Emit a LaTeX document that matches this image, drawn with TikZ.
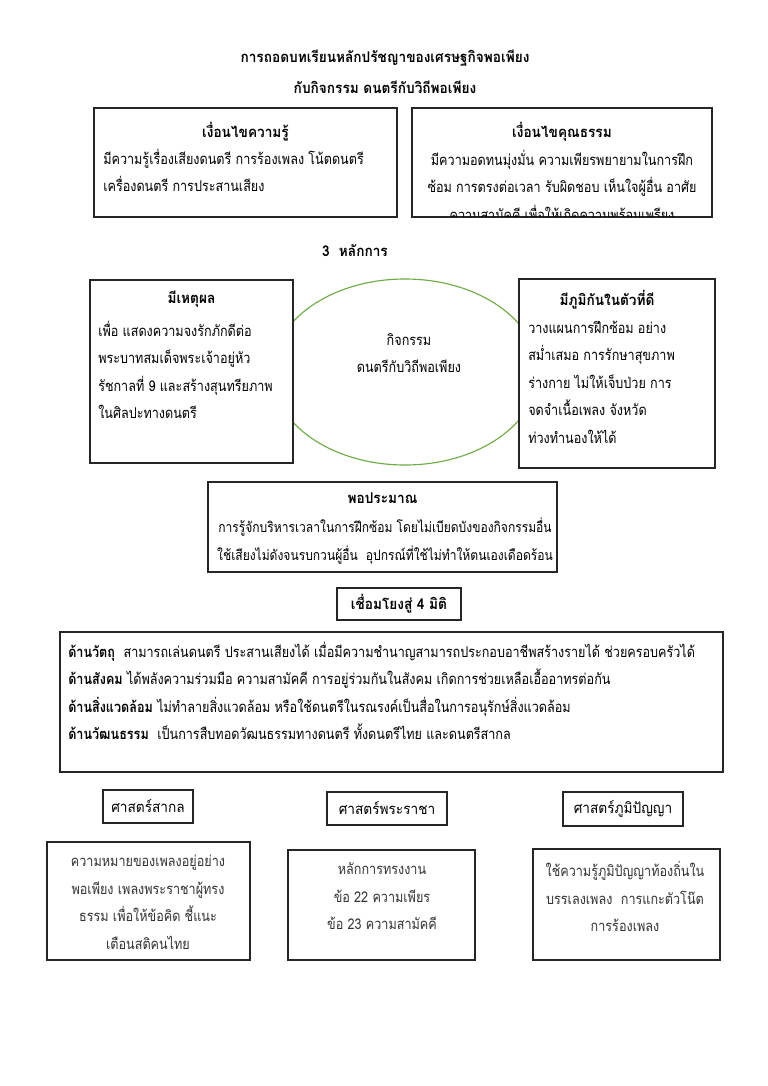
\documentclass[tikz,border=0pt]{standalone}
\usepackage{fontspec}
\newfontfamily\thai[Script=Thai,FakeStretch=0.85]{Loma}
\newfontfamily\thaihd[Script=Thai,FakeStretch=0.92]{Loma}
\usetikzlibrary{positioning,calc,fit}

\begin{document}
\begin{tikzpicture}[x=0.775pt,y=-0.775pt,
  every node/.style={inner sep=0pt,font=\thai\fontsize{11.5}{21.3}\selectfont},
  box/.style={draw=black!85,line width=0.8pt,fill=white,inner sep=0pt},
  head/.style={font=\thaihd\bfseries\fontsize{11.5}{21.3}\selectfont},
  label/.style={font=\thaihd\fontsize{11.5}{21.3}\selectfont},
  body/.style={align=left},
  cbody/.style={align=center,text=black!80}]
  \useasboundingbox (0,0) rectangle (768,1086);
  % title
  \node[head] (ttl1) at (385,58) {การถอดบทเรียนหลักปรัชญาของเศรษฐกิจพอเพียง};
  \node[head] (ttl2) at (385,87) {กับกิจกรรม ดนตรีกับวิถีพอเพียง};
  % conditions
  \node[box,fit={(94,108) (397,217)}] (know) {};
  \node[head] (knowh) at ($(know.north)+(0,24)$) {เงื่อนไขความรู้};
  \node[body,anchor=west] (knowb) at (103,170.5) {มีความรู้เรื่องเสียงดนตรี การร้องเพลง โน้ตดนตรี\\เครื่องดนตรี การประสานเสียง};
  \node[box,fit={(412,108) (712,217)}] (moral) {};
  \node[head] (moralh) at ($(moral.north)+(0,24)$) {เงื่อนไขคุณธรรม};
  \begin{scope}
    \clip (412,108) rectangle (712,216);
    \node[align=center] (moralb) at (562,185) {มีความอดทนมุ่งมั่น ความเพียรพยายามในการฝึก\\ซ้อม การตรงต่อเวลา รับผิดชอบ เห็นใจผู้อื่น อาศัย\\ความสามัคคี เพื่อให้เกิดความพร้อมเพรียง};
  \end{scope}
  \node[head] (three) at (355,251) {3\ \ หลักการ};
  % principles
  \draw[color={rgb,255:red,112;green,173;blue,71},line width=0.9pt] (405,372) ellipse [x radius=133,y radius=93];
  \node[align=center] (act) at (409,353) {กิจกรรม\\ดนตรีกับวิถีพอเพียง};
  \node[box,fit={(90,280) (293,463)}] (reason) {};
  \node[head] (reasonh) at ($(reason.north)+(0,20)$) {มีเหตุผล};
  \node[body,anchor=west] (reasonb) at (98,370) {เพื่อ แสดงความจงรักภักดีต่อ\\พระบาทสมเด็จพระเจ้าอยู่หัว\\รัชกาลที่ 9 และสร้างสุนทรียภาพ\\ในศิลปะทางดนตรี};
  \node[box,fit={(519,279) (715,468)}] (immune) {};
  \node[head] (immuneh) at ($(immune.north)+(-10,21)$) {มีภูมิกันในตัวที่ดี};
  \node[body,anchor=west] (immuneb) at (528,382) {วางแผนการฝึกซ้อม อย่าง\\สม่ำเสมอ การรักษาสุขภาพ\\ร่างกาย ไม่ให้เจ็บป่วย การ\\จดจำเนื้อเพลง จังหวัด\\ท่วงทำนองให้ได้};
  \node[box,fit={(208,482) (557,572)}] (modest) {};
  \node[head] (modesth) at ($(modest.north)+(0,17)$) {พอประมาณ};
  \node[align=center,font=\thai\fontsize{11}{21.3}\selectfont] (modestb) at (385,541) {การรู้จักบริหารเวลาในการฝึกซ้อม โดยไม่เบียดบังของกิจกรรมอื่น\\ใช้เสียงไม่ดังจนรบกวนผู้อื่น\ \ อุปกรณ์ที่ใช้ไม่ทำให้ตนเองเดือดร้อน};
  % four dimensions
  \node[box,fit={(337,588) (461,620)}] (four) {};
  \node[head] (fourt) at (four.center) {เชื่อมโยงสู่ 4 มิติ};
  \node[box,fit={(60,632) (723,772)}] (dims) {};
  \node[body,anchor=west] (dimsb) at (68,691) {\textbf{ด้านวัตถุ}\ \ สามารถเล่นดนตรี ประสานเสียงได้ เมื่อมีความชำนาญสามารถประกอบอาชีพสร้างรายได้ ช่วยครอบครัวได้\\\textbf{ด้านสังคม} ได้พลังความร่วมมือ ความสามัคคี การอยู่ร่วมกันในสังคม เกิดการช่วยเหลือเอื้ออาทรต่อกัน\\\textbf{ด้านสิ่งแวดล้อม} ไม่ทำลายสิ่งแวดล้อม หรือใช้ดนตรีในรณรงค์เป็นสื่อในการอนุรักษ์สิ่งแวดล้อม\\\textbf{ด้านวัฒนธรรม}\ \ เป็นการสืบทอดวัฒนธรรมทางดนตรี ทั้งดนตรีไทย และดนตรีสากล};
  % sciences
  \node[box,fit={(103,790) (193,823)}] (intl) {};
  \node[label] (intlt) at (intl.center) {ศาสตร์สากล};
  \node[box,fit={(327,792) (447,825)}] (royal) {};
  \node[label] (royalt) at (royal.center) {ศาสตร์พระราชา};
  \node[box,fit={(563,792) (683,826)}] (wisdom) {};
  \node[label] (wisdomt) at (wisdom.center) {ศาสตร์ภูมิปัญญา};
  \node[box,fit={(47,842) (250,960)}] (intlbox) {};
  \node[cbody] (intlb) at (148,902.5) {ความหมายของเพลงอยู่อย่าง\\พอเพียง เพลงพระราชาผู้ทรง\\ธรรม เพื่อให้ข้อคิด ชี้แนะ\\เตือนสติคนไทย};
  \node[box,fit={(288,850) (475,960)}] (royalbox) {};
  \node[cbody] (royalb) at (382,896.5) {หลักการทรงงาน\\ข้อ 22 ความเพียร\\ข้อ 23 ความสามัคคี};
  \node[box,fit={(533,849) (720,960)}] (wisdombox) {};
  \node[cbody] (wisdomb) at (625,896.5) {ใช้ความรู้ภูมิปัญญาท้องถิ่นใน\\บรรเลงเพลง\ \ การแกะตัวโน๊ต\\การร้องเพลง};
\end{tikzpicture}
\end{document}
